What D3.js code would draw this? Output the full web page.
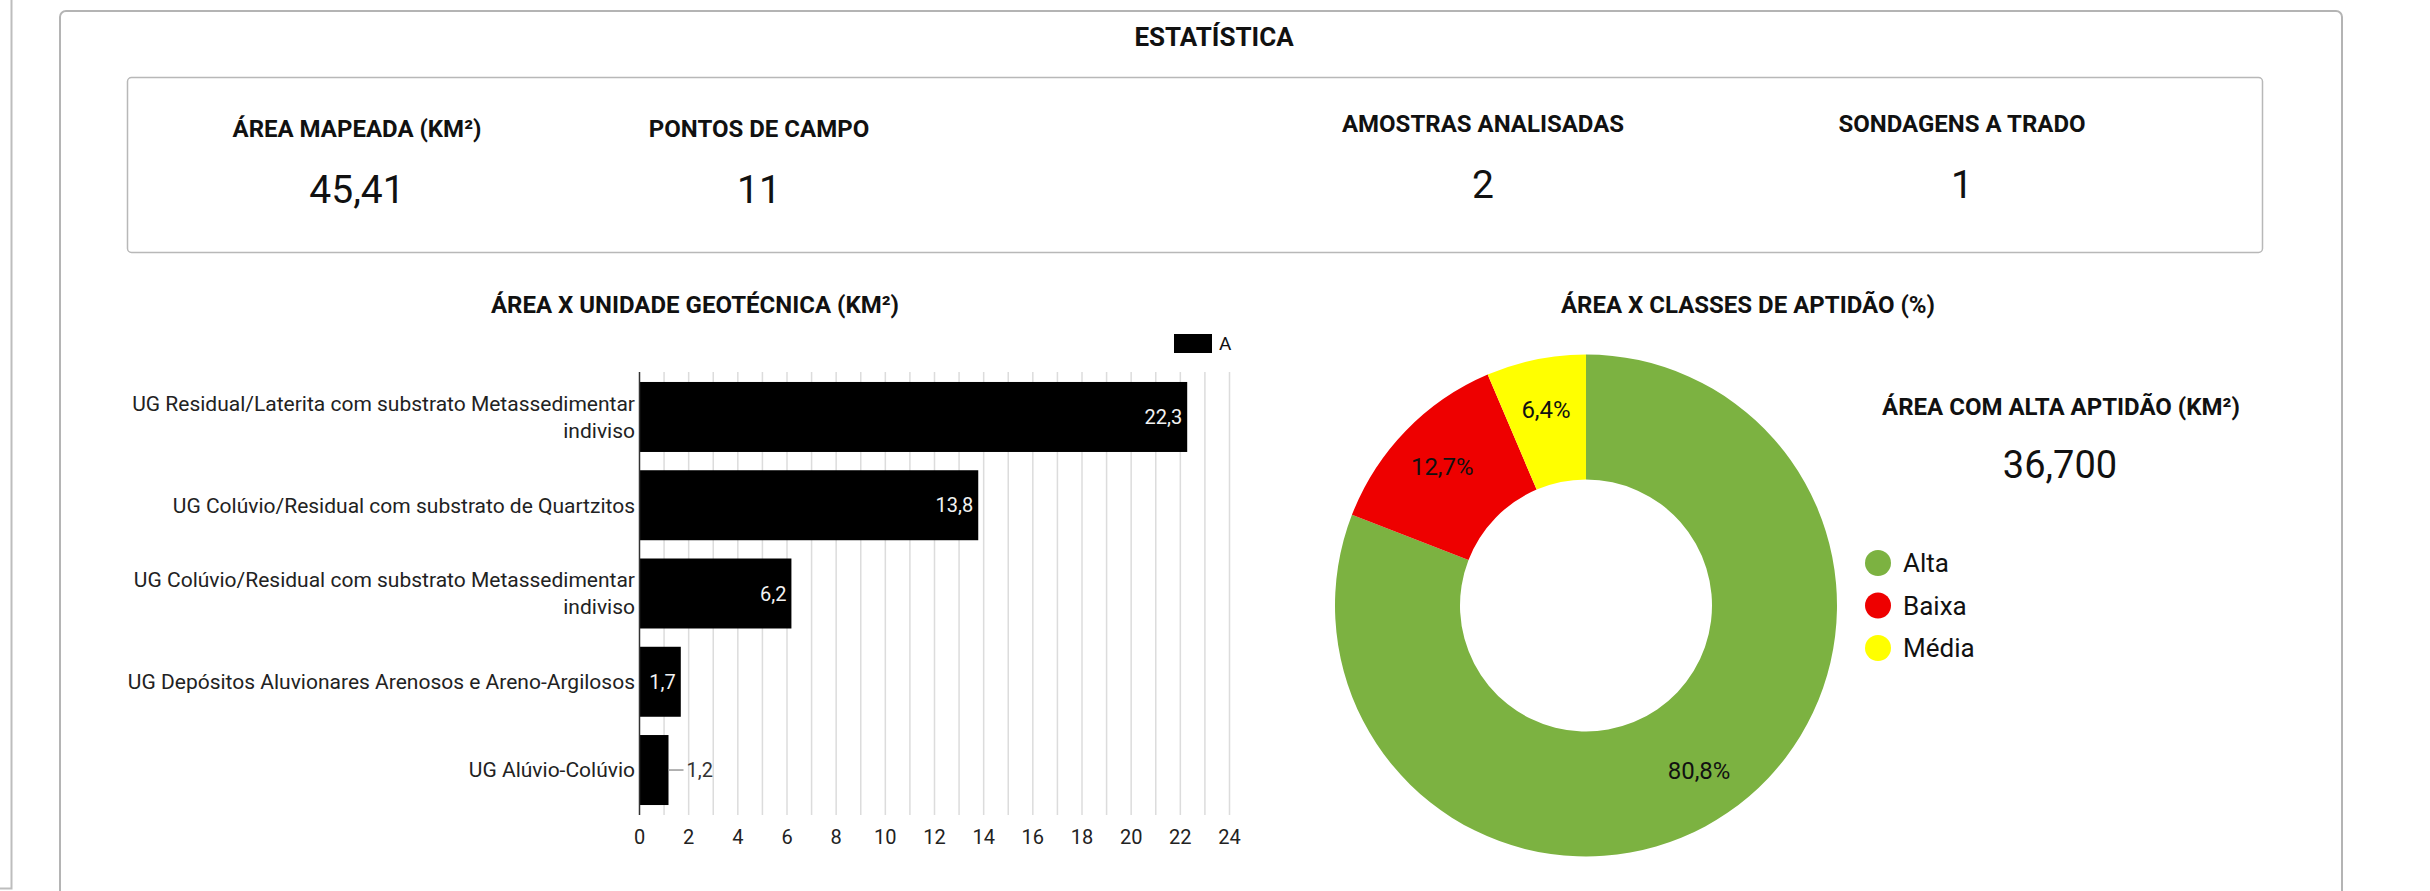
<!DOCTYPE html>
<html>
<head>
<meta charset="utf-8">
<script src="https://cdn.jsdelivr.net/npm/d3@7"></script>
<style>
  html, body { margin: 0; padding: 0; background: #fff; overflow: hidden; }
  svg { display: block; font-family: Roboto, "Noto Sans", sans-serif; }
</style>
</head>
<body>
<svg id="chart" width="2430" height="891"></svg>
<script>
// data
const statLabels = ["ÁREA MAPEADA (KM²)", "PONTOS DE CAMPO", "AMOSTRAS ANALISADAS", "SONDAGENS A TRADO"]
const statValues = ["45,41", "11", "2", "1"]

const unitNames = [
  "UG Residual/Laterita com substrato Metassedimentar indiviso",
  "UG Colúvio/Residual com substrato de Quartzitos",
  "UG Colúvio/Residual com substrato Metassedimentar indiviso",
  "UG Depósitos Aluvionares Arenosos e Areno-Argilosos",
  "UG Alúvio-Colúvio"
]
const unitArea = [22.3, 13.8, 6.2, 1.7, 1.2]
const areaTicks = [0, 2, 4, 6, 8, 10, 12, 14, 16, 18, 20, 22, 24]
const seriesName = "A"

const classNames = ["Alta", "Baixa", "Média"]
const classShare = [80.8, 12.7, 6.4]
const classColors = ["#7cb241", "#ee0000", "#ffff00"]
const highAreaLabel = "ÁREA COM ALTA APTIDÃO (KM²)"
const highAreaValue = "36,700"

const fmt = v => String(v).replace(".", ",")

const svg = d3.select("#chart")

// page frame
svg.append("path")
  .attr("d", "M11.5,0 V888.5 H0")
  .attr("fill", "none").attr("stroke", "#bdbdbd").attr("stroke-width", 2)

svg.append("rect")
  .attr("x", 60).attr("y", 11).attr("width", 2282).attr("height", 920)
  .attr("rx", 6)
  .attr("fill", "#fff").attr("stroke", "#b4b4b4").attr("stroke-width", 2)

svg.append("text")
  .attr("x", 1214).attr("y", 46)
  .attr("text-anchor", "middle")
  .attr("font-size", 26).attr("font-weight", 700).attr("fill", "#111")
  .text("ESTATÍSTICA")

// stats box
svg.append("rect")
  .attr("x", 127.5).attr("y", 77.5).attr("width", 2135).attr("height", 175)
  .attr("rx", 4)
  .attr("fill", "#fff").attr("stroke", "#b8b8b8").attr("stroke-width", 1.5)

const statX = [357, 759, 1483, 1962]
const statShift = [0, 0, -5, -5]

const stat = svg.append("g").selectAll("g")
  .data(statLabels)
  .join("g")
  .attr("transform", (d, i) => `translate(${statX[i]},${statShift[i]})`)

stat.append("text")
  .attr("y", 137)
  .attr("text-anchor", "middle")
  .attr("font-size", 24).attr("font-weight", 700).attr("fill", "#111")
  .text(d => d)

stat.append("text")
  .attr("y", 203)
  .attr("text-anchor", "middle")
  .attr("font-size", 39).attr("fill", "#111")
  .text((d, i) => statValues[i])

// bar chart
svg.append("text")
  .attr("x", 695).attr("y", 313)
  .attr("text-anchor", "middle")
  .attr("font-size", 24).attr("font-weight", 700).attr("fill", "#111")
  .text("ÁREA X UNIDADE GEOTÉCNICA (KM²)")

const x = d3.scaleLinear().domain([0, 24]).range([639, 1229])
const y = d3.scaleBand().domain(unitNames).range([372, 815]).paddingInner(0.207).paddingOuter(0.113)

const bars = svg.append("g")

bars.append("g")
  .selectAll("line")
  .data(d3.range(1, 25))
  .join("line")
  .attr("x1", d => x(d) + 0.5).attr("x2", d => x(d) + 0.5)
  .attr("y1", 372).attr("y2", 815)
  .attr("stroke", "#dcdcdc").attr("stroke-width", 1.5)

bars.append("g")
  .selectAll("rect")
  .data(unitArea)
  .join("rect")
  .attr("x", x(0))
  .attr("y", (d, i) => y(unitNames[i]))
  .attr("width", d => x(d) - x(0))
  .attr("height", y.bandwidth())
  .attr("fill", "#000")

bars.append("line")
  .attr("x1", x(0) + 0.5).attr("x2", x(0) + 0.5)
  .attr("y1", 372).attr("y2", 815)
  .attr("stroke", "#333").attr("stroke-width", 1.5)

// x axis labels
const xAxis = d3.axisBottom(x).tickValues(areaTicks).tickFormat(fmt).tickSize(0).tickPadding(0)
const gx = bars.append("g").attr("transform", "translate(0,830)").call(xAxis)
gx.select(".domain").remove()
gx.selectAll("text").attr("font-size", 20).attr("fill", "#222").attr("font-family", "Roboto")

// y labels, wrapped
const yAxis = d3.axisLeft(y).tickSize(0).tickPadding(5)
const gy = bars.append("g").attr("transform", `translate(${x(0)},0)`).call(yAxis)
gy.select(".domain").remove()
gy.selectAll("text")
  .attr("font-size", 21).attr("fill", "#222").attr("font-family", "Roboto")
  .each(function (d) {
    const t = d3.select(this)
    const words = d.split(" ")
    t.text(null)
    let lines = [[]]
    const probe = t.append("tspan")
    words.forEach(w => {
      const cur = lines[lines.length - 1]
      probe.text(cur.concat(w).join(" "))
      if (probe.node().getComputedTextLength() > 545 && cur.length) lines.push([w])
      else cur.push(w)
    })
    probe.remove()
    const lh = 27
    lines.forEach((ln, k) => {
      t.append("tspan")
        .attr("x", -4)
        .attr("y", (k - (lines.length - 1) / 2) * lh)
        .attr("dy", "0.35em")
        .text(ln.join(" "))
    })
  })

// value labels
bars.append("g")
  .selectAll("g")
  .data(unitArea)
  .join("g")
  .each(function (d, i) {
    const g = d3.select(this)
    const cy = y(unitNames[i]) + y.bandwidth() / 2
    const t = g.append("text")
      .attr("y", cy).attr("dy", "0.35em")
      .attr("font-size", 20)
      .text(fmt(d))
    const w = t.node().getComputedTextLength()
    if (w + 10 < x(d) - x(0)) {
      t.attr("x", x(d) - 5).attr("text-anchor", "end").attr("fill", "#f2f2f2")
    } else {
      g.append("line")
        .attr("x1", x(d)).attr("x2", x(d) + 15)
        .attr("y1", cy).attr("y2", cy)
        .attr("stroke", "#999").attr("stroke-width", 1.5)
      t.attr("x", x(d) + 18).attr("fill", "#333")
    }
  })

// legend of the bars
svg.append("rect")
  .attr("x", 1174).attr("y", 334).attr("width", 38).attr("height", 19)
  .attr("fill", "#000")
svg.append("text")
  .attr("x", 1219).attr("y", 350)
  .attr("font-size", 19).attr("fill", "#111")
  .text(seriesName)

// donut
svg.append("text")
  .attr("x", 1748).attr("y", 313)
  .attr("text-anchor", "middle")
  .attr("font-size", 24).attr("font-weight", 700).attr("fill", "#111")
  .text("ÁREA X CLASSES DE APTIDÃO (%)")

const pie = d3.pie().sort(null).value(d => d)
const arc = d3.arc().innerRadius(126).outerRadius(251)
const labelArc = d3.arc().innerRadius(200).outerRadius(200)
const donut = svg.append("g").attr("transform", "translate(1586,605.5)")

donut.selectAll("path")
  .data(pie(classShare))
  .join("path")
  .attr("d", arc)
  .attr("fill", (d, i) => classColors[i])

donut.selectAll("text")
  .data(pie(classShare))
  .join("text")
  .attr("transform", d => `translate(${labelArc.centroid(d)})`)
  .attr("text-anchor", "middle")
  .attr("dy", "0.35em")
  .attr("font-size", 24).attr("fill", "#111")
  .text(d => fmt(d.data) + "%")

const leg = svg.append("g").selectAll("g")
  .data(classNames)
  .join("g")
  .attr("transform", (d, i) => `translate(1878,${563 + i * 42.5})`)
leg.append("circle").attr("r", 13).attr("fill", (d, i) => classColors[i])
leg.append("text")
  .attr("x", 25).attr("dy", "0.35em")
  .attr("font-size", 26).attr("fill", "#111")
  .text(d => d)

svg.append("text")
  .attr("x", 2061).attr("y", 415)
  .attr("text-anchor", "middle")
  .attr("font-size", 24).attr("font-weight", 700).attr("fill", "#111")
  .text(highAreaLabel)

svg.append("text")
  .attr("x", 2060).attr("y", 478)
  .attr("text-anchor", "middle")
  .attr("font-size", 38).attr("fill", "#111")
  .text(highAreaValue)
</script>
</body>
</html>
